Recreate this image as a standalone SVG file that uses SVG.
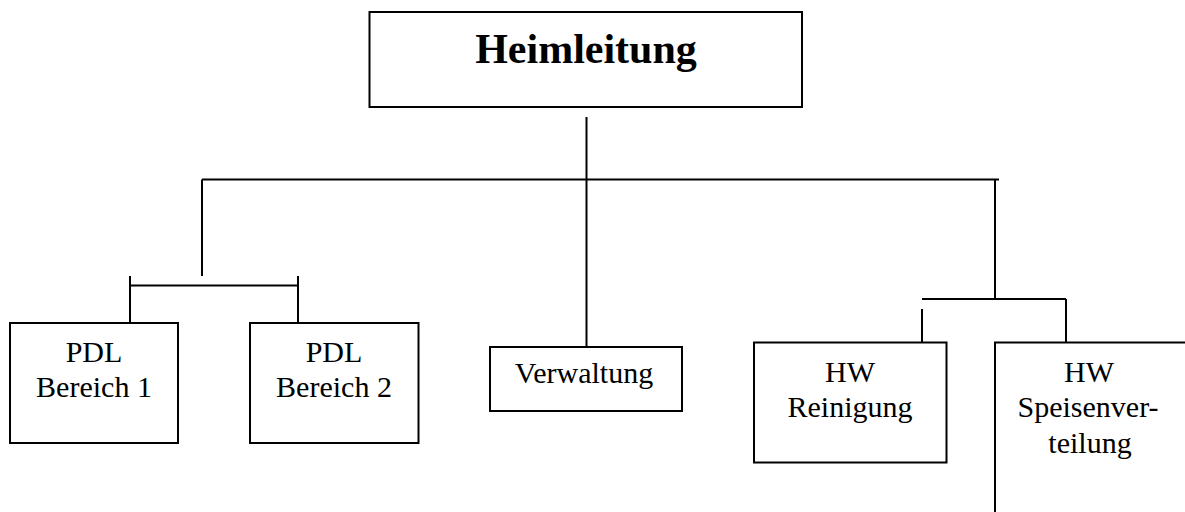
<svg xmlns="http://www.w3.org/2000/svg" width="1185" height="512" viewBox="0 0 1185 512">
  <style>
    .box { fill: #fff; stroke: #000; stroke-width: 2; }
    .line { fill: none; stroke: #000; stroke-width: 2; }
    .lbl { font-family: "Liberation Serif", "Times New Roman", serif; font-size: 30px; fill: #000; text-anchor: middle; }
    .title { font-family: "Liberation Serif", "Times New Roman", serif; font-size: 42px; font-weight: bold; fill: #000; text-anchor: middle; }
  </style>
  <rect width="1185" height="512" fill="#fff"/>

  <!-- connectors -->
  <g id="connectors">
    <path class="line" d="M586.5 117 V347"/>
    <path class="line" d="M202 179.5 H999"/>
    <path class="line" d="M202 179.5 V276"/>
    <path class="line" d="M130 276 V323 M298 276 V323 M130 285.5 H298"/>
    <path class="line" d="M995 179.5 V299"/>
    <path class="line" d="M922 299 H1066 M1066 299 V342.5 M922 309 V342.5"/>
  </g>

  <g id="heimleitung">
    <rect class="box" x="369.5" y="12" width="432.5" height="95"/>
    <text class="title" x="586" y="63">Heimleitung</text>
  </g>

  <g id="pdl1">
    <rect class="box" x="10" y="323" width="168" height="120"/>
    <text class="lbl" x="94" y="362">PDL</text>
    <text class="lbl" x="94" y="397">Bereich 1</text>
  </g>

  <g id="pdl2">
    <rect class="box" x="250" y="323" width="168.5" height="120"/>
    <text class="lbl" x="334" y="362">PDL</text>
    <text class="lbl" x="334" y="397">Bereich 2</text>
  </g>

  <g id="verwaltung">
    <rect class="box" x="490" y="347" width="192" height="64"/>
    <text class="lbl" x="584" y="383">Verwaltung</text>
  </g>

  <g id="hw-reinigung">
    <rect class="box" x="754" y="342.5" width="192.5" height="120"/>
    <text class="lbl" x="850" y="382">HW</text>
    <text class="lbl" x="850" y="417">Reinigung</text>
  </g>

  <g id="hw-speisenverteilung">
    <rect class="box" x="995" y="342.5" width="250" height="250"/>
    <text class="lbl" x="1089" y="382">HW</text>
    <text class="lbl" x="1088" y="417">Speisenver-</text>
    <text class="lbl" x="1090" y="453">teilung</text>
  </g>
</svg>
